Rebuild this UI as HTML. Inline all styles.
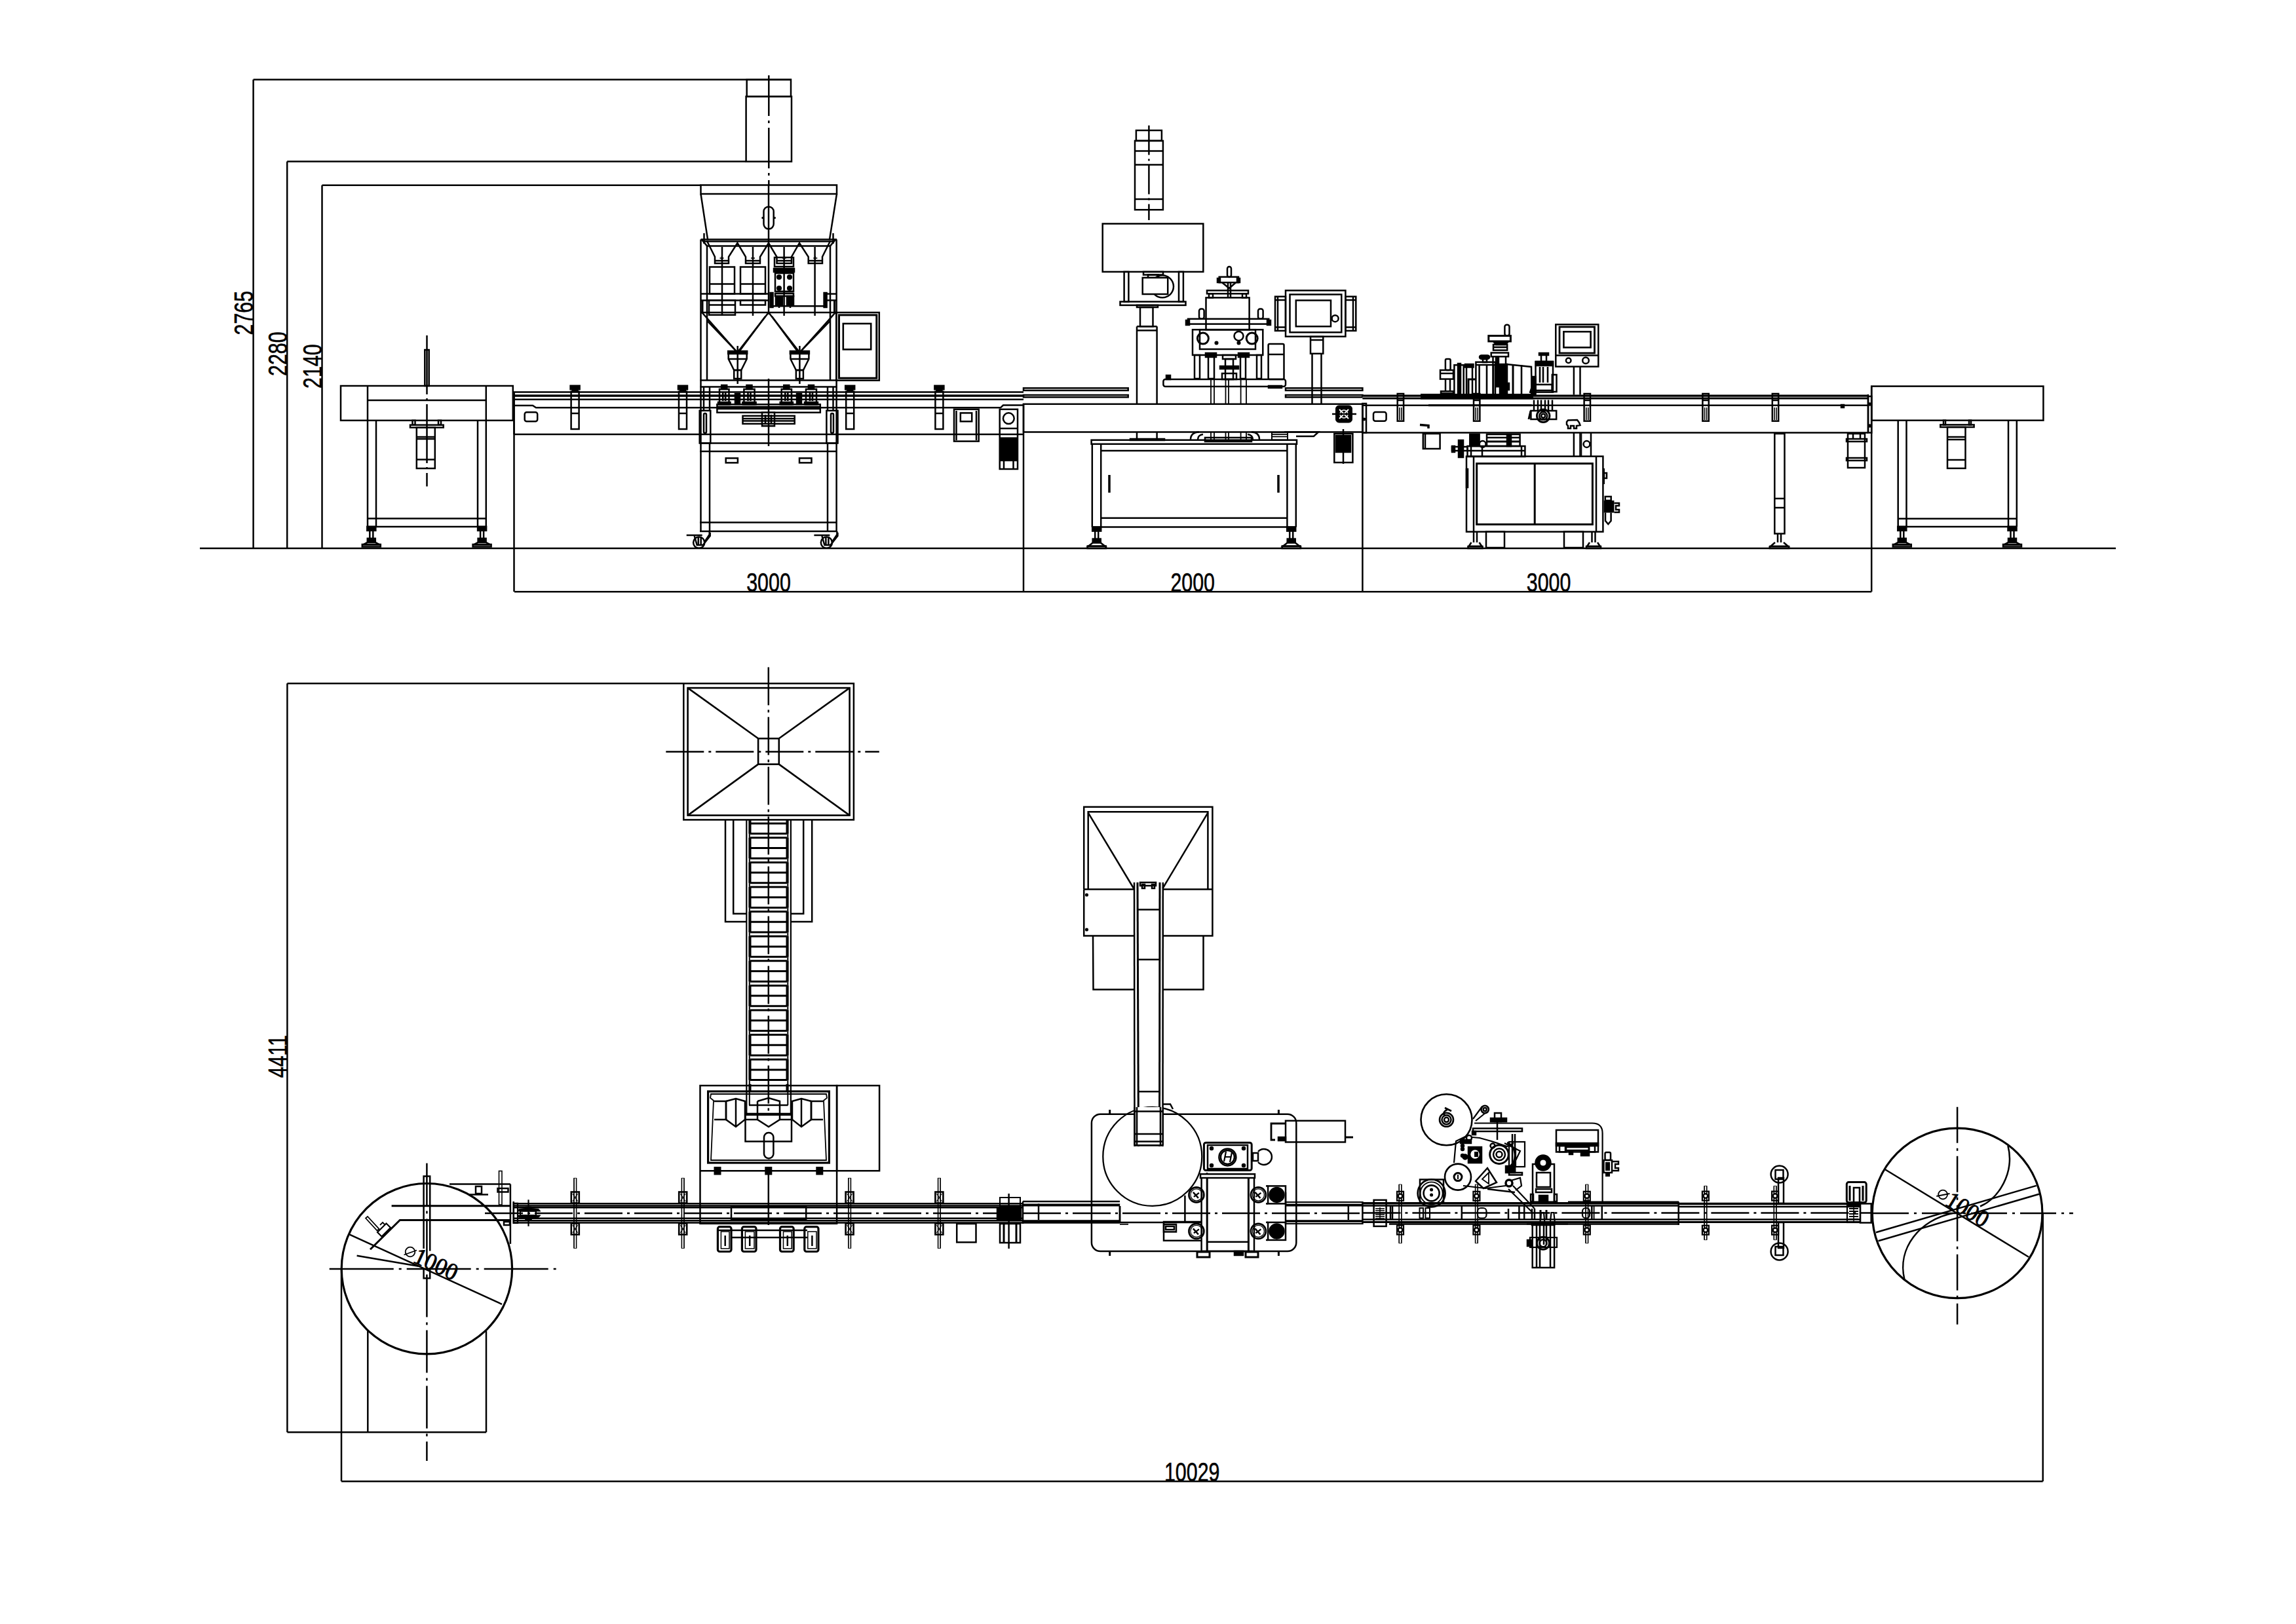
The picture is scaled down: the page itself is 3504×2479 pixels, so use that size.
<!DOCTYPE html>
<html><head><meta charset="utf-8"><style>
html,body{margin:0;padding:0;background:#fff;overflow:hidden;width:3504px;height:2479px;}
svg{display:block;}
</style></head><body>
<svg width="3504" height="2479" viewBox="0 0 3504 2479">
<rect x="0" y="0" width="3504" height="2479" fill="#fff"/>
<g fill="none" stroke="#000" stroke-width="2.5" stroke-linecap="butt" stroke-linejoin="miter">
<line x1="305" y1="837" x2="3229" y2="837" stroke-width="2.4"/>
<line x1="386.6" y1="121.5" x2="386.6" y2="837"/>
<line x1="386.6" y1="121.5" x2="1208" y2="121.5"/>
<line x1="438.2" y1="246.6" x2="438.2" y2="837"/>
<line x1="438.2" y1="246.6" x2="1138" y2="246.6"/>
<line x1="491.5" y1="282.8" x2="491.5" y2="837"/>
<line x1="491.5" y1="282.8" x2="1069.5" y2="282.8"/>
<text transform="translate(386,511.5) rotate(-90) scale(0.75,1)" font-size="40.5" text-anchor="start" font-family="Liberation Sans"  fill="#000" stroke="#000" stroke-width="0.6">2765</text>
<text transform="translate(437.5,574) rotate(-90) scale(0.75,1)" font-size="40.5" text-anchor="start" font-family="Liberation Sans"  fill="#000" stroke="#000" stroke-width="0.6">2280</text>
<text transform="translate(490.7,593) rotate(-90) scale(0.75,1)" font-size="40.5" text-anchor="start" font-family="Liberation Sans"  fill="#000" stroke="#000" stroke-width="0.6">2140</text>
<line x1="785" y1="903.3" x2="2856.2" y2="903.3"/>
<line x1="784.5" y1="600" x2="784.5" y2="903.3"/>
<line x1="1562" y1="616" x2="1562" y2="903.3"/>
<line x1="2079.4" y1="616" x2="2079.4" y2="903.3"/>
<line x1="2856.2" y1="589.6" x2="2856.2" y2="903.3"/>
<text transform="translate(1173,902.5) scale(0.75,1)" font-size="40.5" text-anchor="middle" font-family="Liberation Sans"  fill="#000" stroke="#000" stroke-width="0.6">3000</text>
<text transform="translate(1820.2,902.5) scale(0.75,1)" font-size="40.5" text-anchor="middle" font-family="Liberation Sans"  fill="#000" stroke="#000" stroke-width="0.6">2000</text>
<text transform="translate(2363.6,902.5) scale(0.75,1)" font-size="40.5" text-anchor="middle" font-family="Liberation Sans"  fill="#000" stroke="#000" stroke-width="0.6">3000</text>
<rect x="1138.6" y="147.2" width="69.4" height="99.4"/>
<rect x="1139.7" y="121.5" width="67.3" height="25.7"/>
<line x1="1173.3" y1="115" x2="1173.3" y2="282" stroke-dasharray="62 7 4 7"/>
<rect x="1069.5" y="282.5" width="207.5" height="13.5"/>
<polyline points="1069.5,296 1080.2,366.4"/>
<polyline points="1277,296 1265.9,366.4"/>
<line x1="1173" y1="282" x2="1173" y2="480" stroke-dasharray="200 6 4 6"/>
<rect x="1165.5" y="315.5" width="15.2" height="34" rx="7.5"/>
<line x1="1162.5" y1="332.5" x2="1165.5" y2="332.5" stroke-width="3"/>
<line x1="1180.7" y1="332.5" x2="1183.7" y2="332.5" stroke-width="3"/>
<line x1="1069.5" y1="365.5" x2="1277" y2="365.5" stroke-width="2.6"/>
<polyline points="1071,366 1079,375.4"/>
<polyline points="1275,366 1267,375.4"/>
<line x1="1075" y1="368.5" x2="1271" y2="368.5"/>
<line x1="1079" y1="375.4" x2="1267" y2="375.4"/>
<line x1="1069.5" y1="365.5" x2="1069.5" y2="811"/>
<line x1="1079" y1="375" x2="1079" y2="580.6"/>
<line x1="1276.6" y1="365.5" x2="1276.6" y2="811"/>
<line x1="1267" y1="375" x2="1267" y2="580.6"/>
<line x1="1083" y1="676.5" x2="1083" y2="811"/>
<line x1="1263" y1="676.5" x2="1263" y2="811"/>
<line x1="1074.5" y1="356" x2="1074.5" y2="372"/>
<line x1="1271.5" y1="356" x2="1271.5" y2="372"/>
<polyline points="1079,368 1091,392 1091,402 1112,402 1112,392 1125.4,371 1138,392 1138,402 1160,402 1160,392 1173,371 1185.5,392 1185.5,402 1208,402 1208,392 1220,371 1233.7,392 1233.7,402 1255,402 1255,392 1267,368"/>
<line x1="1091" y1="398" x2="1112" y2="398"/>
<line x1="1098.5" y1="394" x2="1104.5" y2="394" stroke-width="1.6"/>
<line x1="1101.5" y1="391" x2="1101.5" y2="397" stroke-width="1.6"/>
<line x1="1138" y1="398" x2="1160" y2="398"/>
<line x1="1146" y1="394" x2="1152" y2="394" stroke-width="1.6"/>
<line x1="1149" y1="391" x2="1149" y2="397" stroke-width="1.6"/>
<line x1="1185.5" y1="398" x2="1207.9" y2="398"/>
<line x1="1193.7" y1="394" x2="1199.7" y2="394" stroke-width="1.6"/>
<line x1="1196.7" y1="391" x2="1196.7" y2="397" stroke-width="1.6"/>
<line x1="1233.6" y1="398" x2="1255" y2="398"/>
<line x1="1241.3" y1="394" x2="1247.3" y2="394" stroke-width="1.6"/>
<line x1="1244.3" y1="391" x2="1244.3" y2="397" stroke-width="1.6"/>
<line x1="1102" y1="377" x2="1102" y2="482"/>
<line x1="1149" y1="377" x2="1149" y2="482"/>
<line x1="1196.6" y1="377" x2="1196.6" y2="482"/>
<line x1="1243.6" y1="377" x2="1243.6" y2="482"/>
<rect x="1083" y="407.5" width="38" height="41.1"/>
<line x1="1083" y1="433.4" x2="1121" y2="433.4"/>
<rect x="1130" y="407.5" width="38" height="41.1"/>
<line x1="1130" y1="433.4" x2="1168" y2="433.4"/>
<rect x="1082" y="458.4" width="40" height="22.3"/>
<line x1="1082" y1="465.5" x2="1122" y2="465.5"/>
<rect x="1130" y="458.4" width="38" height="7.1"/>
<line x1="1069.5" y1="448.6" x2="1173" y2="448.6"/>
<line x1="1069.5" y1="458.4" x2="1173" y2="458.4"/>
<line x1="1259.6" y1="448.6" x2="1277" y2="448.6"/>
<line x1="1259.6" y1="458.4" x2="1277" y2="458.4"/>
<line x1="1177.5" y1="467.3" x2="1259.6" y2="467.3"/>
<rect x="1175.5" y="447" width="4" height="22" fill="#000"/>
<rect x="1257.6" y="447" width="4" height="22" fill="#000"/>
<line x1="1072" y1="458.4" x2="1072" y2="477" stroke-width="3"/>
<line x1="1273.5" y1="458.4" x2="1273.5" y2="477" stroke-width="3"/>
<rect x="1182" y="393" width="29" height="14"/>
<rect x="1181" y="410" width="31" height="5" fill="#000"/>
<rect x="1183" y="417" width="28" height="28"/>
<line x1="1183" y1="445" x2="1211" y2="445"/>
<circle cx="1189" cy="423" r="2.8" fill="#000"/>
<circle cx="1205" cy="423" r="2.8" fill="#000"/>
<circle cx="1189" cy="440" r="2.8" fill="#000"/>
<circle cx="1205" cy="440" r="2.8" fill="#000"/>
<rect x="1183" y="448" width="28" height="4"/>
<rect x="1184" y="452" width="10" height="13" fill="#000"/>
<rect x="1201" y="452" width="10" height="13" fill="#000"/>
<line x1="1189" y1="465" x2="1189" y2="470"/>
<line x1="1206" y1="465" x2="1206" y2="470"/>
<line x1="1069.5" y1="477" x2="1277" y2="477"/>
<line x1="1071.3" y1="477" x2="1125.4" y2="538"/>
<line x1="1079.3" y1="489.6" x2="1125.4" y2="538"/>
<line x1="1173" y1="477" x2="1125.4" y2="538"/>
<line x1="1168" y1="483" x2="1127" y2="538"/>
<line x1="1173" y1="477" x2="1220.4" y2="538"/>
<line x1="1178" y1="483" x2="1218.4" y2="538"/>
<line x1="1275" y1="477" x2="1220.4" y2="538"/>
<line x1="1267" y1="489.6" x2="1220.4" y2="538"/>
<rect x="1111.2" y="536" width="29" height="4" fill="#000"/>
<polyline points="1111.7,540 1111.7,548 1120.2,565 1131.2,565 1139.7,548 1139.7,540"/>
<line x1="1111.7" y1="548" x2="1139.7" y2="548"/>
<rect x="1120.2" y="565" width="11" height="13"/>
<line x1="1125.7" y1="528" x2="1125.7" y2="586"/>
<rect x="1205.9" y="536" width="29" height="4" fill="#000"/>
<polyline points="1206.4,540 1206.4,548 1214.9,565 1225.9,565 1234.4,548 1234.4,540"/>
<line x1="1206.4" y1="548" x2="1234.4" y2="548"/>
<rect x="1214.9" y="565" width="11" height="13"/>
<line x1="1220.4" y1="528" x2="1220.4" y2="586"/>
<rect x="1276.3" y="477" width="65.5" height="103.7"/>
<rect x="1280.5" y="480.9" width="57.3" height="96.3" stroke-width="3"/>
<rect x="1286.8" y="494" width="42.4" height="39.4" stroke-width="2.6"/>
<line x1="1068.6" y1="580.6" x2="1277.2" y2="580.6"/>
<line x1="1068.6" y1="590.6" x2="1277.2" y2="590.6"/>
<line x1="1074" y1="590.6" x2="1074" y2="626"/>
<line x1="1271.5" y1="590.6" x2="1271.5" y2="626"/>
<line x1="1083" y1="590.6" x2="1083" y2="626"/>
<line x1="1263" y1="590.6" x2="1263" y2="626"/>
<rect x="1067.7" y="626.8" width="16.6" height="49.7"/>
<rect x="1074" y="631" width="4" height="30" rx="2"/>
<rect x="1261.4" y="626.8" width="17.1" height="49.7"/>
<rect x="1268" y="631" width="4" height="30" rx="2"/>
<line x1="1068" y1="676.5" x2="1277" y2="676.5"/>
<line x1="1068" y1="688.9" x2="1277" y2="688.9"/>
<line x1="1068" y1="797.6" x2="1277" y2="797.6"/>
<line x1="1068" y1="811" x2="1277" y2="811"/>
<rect x="1107.7" y="699.4" width="18.2" height="7"/>
<rect x="1220" y="699.4" width="18.5" height="7"/>
<rect x="1094.4" y="617.3" width="157.4" height="12.4"/>
<line x1="1094.4" y1="621" x2="1251.8" y2="621"/>
<line x1="1094.4" y1="624" x2="1251.8" y2="624"/>
<rect x="1098" y="594" width="14.5" height="23.3"/>
<rect x="1101.2" y="588" width="8" height="6" fill="#000"/>
<line x1="1103.2" y1="598" x2="1103.2" y2="612" stroke-width="2.6"/>
<line x1="1107.2" y1="598" x2="1107.2" y2="612" stroke-width="2.6"/>
<rect x="1096" y="614" width="18.5" height="3.3" fill="#000"/>
<rect x="1135.4" y="594" width="16.2" height="23.3"/>
<rect x="1139.5" y="588" width="8" height="6" fill="#000"/>
<line x1="1141.5" y1="598" x2="1141.5" y2="612" stroke-width="2.6"/>
<line x1="1145.5" y1="598" x2="1145.5" y2="612" stroke-width="2.6"/>
<rect x="1133.4" y="614" width="20.2" height="3.3" fill="#000"/>
<rect x="1192.7" y="594" width="15.3" height="23.3"/>
<rect x="1196.3" y="588" width="8" height="6" fill="#000"/>
<line x1="1198.3" y1="598" x2="1198.3" y2="612" stroke-width="2.6"/>
<line x1="1202.3" y1="598" x2="1202.3" y2="612" stroke-width="2.6"/>
<rect x="1190.7" y="614" width="19.3" height="3.3" fill="#000"/>
<rect x="1230" y="594" width="16" height="23.3"/>
<rect x="1234" y="588" width="8" height="6" fill="#000"/>
<line x1="1236" y1="598" x2="1236" y2="612" stroke-width="2.6"/>
<line x1="1240" y1="598" x2="1240" y2="612" stroke-width="2.6"/>
<rect x="1228" y="614" width="20" height="3.3" fill="#000"/>
<rect x="1122" y="601" width="7" height="16" fill="#000"/>
<rect x="1216" y="601" width="7" height="16" fill="#000"/>
<rect x="1133.5" y="634.8" width="79.2" height="12.1"/>
<line x1="1133.5" y1="639" x2="1212.7" y2="639"/>
<line x1="1133.5" y1="642.5" x2="1212.7" y2="642.5"/>
<rect x="1163" y="629.7" width="19" height="20.6"/>
<line x1="1168" y1="633" x2="1168" y2="647" stroke-width="2.6"/>
<line x1="1177" y1="633" x2="1177" y2="647" stroke-width="2.6"/>
<line x1="1173" y1="578" x2="1173" y2="681"/>
<path d="M1082.7,811 L1082.7,816 L1074.7,828 "/>
<polyline points="1047.7,817 1071.7,817"/>
<polyline points="1083.7,813 1083.7,818 1072.7,832 1063.7,832 1059.7,818"/>
<circle cx="1066.7" cy="828.2" r="8.6"/>
<line x1="1065.7" y1="819" x2="1065.7" y2="832"/>
<line x1="1069.7" y1="819" x2="1069.7" y2="832"/>
<path d="M1277.4,811 L1277.4,816 L1269.4,828 "/>
<polyline points="1242.4,817 1266.4,817"/>
<polyline points="1278.4,813 1278.4,818 1267.4,832 1258.4,832 1254.4,818"/>
<circle cx="1261.4" cy="828.2" r="8.6"/>
<line x1="1260.4" y1="819" x2="1260.4" y2="832"/>
<line x1="1264.4" y1="819" x2="1264.4" y2="832"/>
<rect x="520" y="589" width="262.8" height="52.8"/>
<line x1="561" y1="589" x2="561" y2="803.9"/>
<line x1="741.8" y1="589" x2="741.8" y2="803.9"/>
<line x1="561" y1="611" x2="741.8" y2="611"/>
<line x1="574" y1="641.8" x2="574" y2="803.9"/>
<line x1="729" y1="641.8" x2="729" y2="803.9"/>
<line x1="561" y1="791.4" x2="741.8" y2="791.4"/>
<line x1="561" y1="803.9" x2="741.8" y2="803.9"/>
<rect x="560.3" y="803.9" width="13" height="6" fill="#000"/>
<line x1="564.3" y1="809.9" x2="564.3" y2="821.9"/>
<line x1="569.3" y1="809.9" x2="569.3" y2="821.9"/>
<rect x="560.8" y="821.9" width="12" height="6" fill="#000"/>
<polyline points="560.8,827.9 553.8,831.5 579.8,831.5 572.8,827.9"/>
<rect x="552.8" y="831" width="28" height="3.5"/>
<rect x="729.1" y="803.9" width="13" height="6" fill="#000"/>
<line x1="733.1" y1="809.9" x2="733.1" y2="821.9"/>
<line x1="738.1" y1="809.9" x2="738.1" y2="821.9"/>
<rect x="729.6" y="821.9" width="12" height="6" fill="#000"/>
<polyline points="729.6,827.9 722.6,831.5 748.6,831.5 741.6,827.9"/>
<rect x="721.6" y="831" width="28" height="3.5"/>
<line x1="651.5" y1="512" x2="651.5" y2="742.5" stroke-dasharray="90 6 3 6"/>
<rect x="648.3" y="534" width="6.4" height="55"/>
<rect x="626" y="648.7" width="50.7" height="3.9"/>
<rect x="629.5" y="641.8" width="4" height="6.9"/>
<rect x="669" y="641.8" width="4" height="6.9"/>
<rect x="635.8" y="652.6" width="28" height="62.4"/>
<line x1="635.8" y1="667" x2="663.8" y2="667"/>
<line x1="635.8" y1="670" x2="663.8" y2="670"/>
<line x1="635.8" y1="701.5" x2="663.8" y2="701.5"/>
<line x1="784" y1="598.6" x2="1562" y2="598.6"/>
<rect x="784" y="602.6" width="778" height="3" stroke-width="0.5" fill="#000"/>
<line x1="784" y1="609.7" x2="1562" y2="609.7"/>
<polyline points="784.5,619 813,619 818,622.3 1527,622.3 1531,618.5 1562,618.5"/>
<line x1="784.5" y1="663.1" x2="1562" y2="663.1"/>
<line x1="784.5" y1="598.6" x2="784.5" y2="663.1"/>
<rect x="800.7" y="629.2" width="19.5" height="14" rx="3"/>
<rect x="870.6" y="588.8" width="14" height="5.5" fill="#000"/>
<rect x="873.6" y="594.3" width="8" height="3.5" fill="#000"/>
<rect x="871.6" y="597.8" width="12" height="57.2"/>
<line x1="871.6" y1="631" x2="883.6" y2="631"/>
<rect x="1035" y="588.8" width="14" height="5.5" fill="#000"/>
<rect x="1038" y="594.3" width="8" height="3.5" fill="#000"/>
<rect x="1036" y="597.8" width="12" height="57.2"/>
<line x1="1036" y1="631" x2="1048" y2="631"/>
<rect x="1290.2" y="588.8" width="14" height="5.5" fill="#000"/>
<rect x="1293.2" y="594.3" width="8" height="3.5" fill="#000"/>
<rect x="1291.2" y="597.8" width="12" height="57.2"/>
<line x1="1291.2" y1="631" x2="1303.2" y2="631"/>
<rect x="1426.4" y="588.8" width="14" height="5.5" fill="#000"/>
<rect x="1429.4" y="594.3" width="8" height="3.5" fill="#000"/>
<rect x="1427.4" y="597.8" width="12" height="57.2"/>
<line x1="1427.4" y1="631" x2="1439.4" y2="631"/>
<rect x="1456" y="624.8" width="37.7" height="48.8"/>
<line x1="1459.5" y1="627" x2="1459.5" y2="672"/>
<line x1="1490" y1="627" x2="1490" y2="672"/>
<rect x="1465.8" y="630.4" width="17.4" height="12.9"/>
<rect x="1525.7" y="624.8" width="27.3" height="91.2"/>
<circle cx="1539.3" cy="638.7" r="8.4"/>
<rect x="1527" y="668.7" width="24.5" height="34.2" fill="#000"/>
<line x1="1525.7" y1="654" x2="1553" y2="654"/>
<line x1="1532" y1="702.9" x2="1532" y2="716"/>
<line x1="1546.5" y1="702.9" x2="1546.5" y2="716"/>
<rect x="1733.9" y="199" width="39" height="15.9"/>
<rect x="1732" y="214.9" width="42.9" height="105.3"/>
<line x1="1732" y1="230.5" x2="1774.9" y2="230.5"/>
<line x1="1732" y1="251.5" x2="1774.9" y2="251.5"/>
<line x1="1732" y1="303.9" x2="1774.9" y2="303.9"/>
<line x1="1753.4" y1="191.5" x2="1753.4" y2="336" stroke-dasharray="45 6 3 6"/>
<rect x="1682.7" y="341.5" width="153.6" height="73.4"/>
<rect x="1715.6" y="414.9" width="6.8" height="45.6"/>
<rect x="1799" y="414.9" width="6.9" height="45.6"/>
<rect x="1745" y="414.9" width="30" height="4.6"/>
<rect x="1752" y="419.5" width="16" height="4.5"/>
<circle cx="1774" cy="437.3" r="17"/>
<rect x="1743.7" y="423.9" width="38.5" height="25.1" fill="#fff"/>
<rect x="1709.5" y="460.5" width="100" height="5.4"/>
<rect x="1735" y="465.9" width="32" height="3.1"/>
<rect x="1740" y="469" width="19.5" height="29.3"/>
<line x1="1735" y1="498.3" x2="1735" y2="616.8"/>
<line x1="1765.6" y1="498.3" x2="1765.6" y2="616.8"/>
<line x1="1735" y1="498.3" x2="1765.6" y2="498.3"/>
<line x1="1735" y1="504.4" x2="1765.6" y2="504.4"/>
<line x1="1735" y1="659.5" x2="1735" y2="671.7"/>
<line x1="1765.6" y1="659.5" x2="1765.6" y2="671.7"/>
<rect x="1873" y="407" width="6" height="16" rx="3"/>
<rect x="1860.7" y="422.7" width="29.3" height="8.5"/>
<rect x="1858" y="425" width="4" height="6" fill="#000"/>
<rect x="1888" y="425" width="4" height="6" fill="#000"/>
<polyline points="1865,431.2 1876,440 1886,431.2"/>
<line x1="1874" y1="431.2" x2="1874" y2="454.4"/>
<line x1="1878" y1="431.2" x2="1878" y2="454.4"/>
<rect x="1842" y="443.4" width="63" height="4.9"/>
<rect x="1845" y="448.3" width="6" height="6.1"/>
<rect x="1896" y="448.3" width="6" height="6.1"/>
<rect x="1840.5" y="454.4" width="66.1" height="48.8"/>
<rect x="1813" y="486.8" width="123.3" height="7.8"/>
<rect x="1810" y="489" width="5" height="7" fill="#000"/>
<rect x="1934" y="489" width="5" height="7" fill="#000"/>
<rect x="1830" y="471.5" width="7.6" height="15.3" rx="3"/>
<rect x="1920" y="471.5" width="7.6" height="15.3" rx="3"/>
<rect x="1820" y="503.2" width="107.3" height="38.8"/>
<rect x="1831" y="503.2" width="85" height="29.8"/>
<circle cx="1835.9" cy="516.6" r="8.5" stroke-width="3"/>
<circle cx="1910.7" cy="516.6" r="8.5" stroke-width="3"/>
<circle cx="1890.5" cy="513" r="7"/>
<circle cx="1856.5" cy="523.5" r="1.8" fill="#000"/>
<circle cx="1890.5" cy="523.5" r="1.8" fill="#000"/>
<rect x="1823" y="542" width="8" height="36"/>
<rect x="1844" y="542" width="9" height="36"/>
<rect x="1893" y="542" width="8" height="36"/>
<rect x="1918" y="542" width="7" height="36"/>
<rect x="1866" y="542" width="20" height="6"/>
<rect x="1870" y="548" width="12" height="31"/>
<rect x="1840" y="539" width="16" height="6" fill="#000"/>
<rect x="1890" y="539" width="16" height="6" fill="#000"/>
<rect x="1862" y="559" width="28" height="4" fill="#000"/>
<rect x="1865" y="570" width="22" height="9"/>
<rect x="1775.4" y="579" width="186.6" height="11" rx="3"/>
<rect x="1780" y="573" width="6" height="6" fill="#000"/>
<rect x="1936" y="589" width="20" height="3" fill="#000"/>
<rect x="1935.6" y="525" width="23.9" height="54" rx="2"/>
<line x1="1935.6" y1="541" x2="1959.5" y2="541"/>
<rect x="1962" y="443.4" width="91.4" height="70.3"/>
<rect x="1968.5" y="449.5" width="78.8" height="57.8"/>
<rect x="1977.8" y="458.5" width="53.2" height="39.8"/>
<circle cx="2037.6" cy="486.2" r="5"/>
<rect x="1946" y="452.7" width="16" height="52.2"/>
<line x1="1950" y1="452.7" x2="1950" y2="504.9"/>
<line x1="1946" y1="458" x2="1962" y2="458"/>
<line x1="1946" y1="499.5" x2="1962" y2="499.5"/>
<rect x="2053.4" y="452.7" width="15.9" height="52.2"/>
<line x1="2065" y1="452.7" x2="2065" y2="504.9"/>
<line x1="2053.4" y1="458" x2="2069.3" y2="458"/>
<line x1="2053.4" y1="499.5" x2="2069.3" y2="499.5"/>
<rect x="2000" y="514" width="19.3" height="25.8"/>
<line x1="2000" y1="519" x2="2019.3" y2="519"/>
<line x1="2002.5" y1="539.8" x2="2002.5" y2="616.8"/>
<line x1="2016.5" y1="539.8" x2="2016.5" y2="616.8"/>
<rect x="1562" y="616.8" width="517.4" height="42.7"/>
<rect x="1562" y="592.4" width="159.7" height="3.6"/>
<rect x="1562" y="603" width="159.7" height="3.3"/>
<rect x="1962" y="592.4" width="117.4" height="3.6"/>
<rect x="1962" y="603" width="117.4" height="3.3"/>
<rect x="1665.6" y="671.7" width="313.4" height="6.1"/>
<line x1="1666.8" y1="677.8" x2="1666.8" y2="804.6"/>
<line x1="1977.8" y1="677.8" x2="1977.8" y2="804.6"/>
<line x1="1680.2" y1="677.8" x2="1680.2" y2="804.6"/>
<line x1="1964.4" y1="677.8" x2="1964.4" y2="804.6"/>
<line x1="1680.2" y1="688" x2="1964.4" y2="688"/>
<line x1="1680.2" y1="790.7" x2="1964.4" y2="790.7"/>
<line x1="1666.8" y1="804.6" x2="1977.8" y2="804.6"/>
<line x1="1693" y1="725" x2="1693" y2="752" stroke-width="3.5"/>
<line x1="1951" y1="725" x2="1951" y2="752" stroke-width="3.5"/>
<rect x="1667.2" y="804.6" width="13" height="6" fill="#000"/>
<line x1="1671.2" y1="810.6" x2="1671.2" y2="822.6"/>
<line x1="1676.2" y1="810.6" x2="1676.2" y2="822.6"/>
<rect x="1667.7" y="822.6" width="12" height="6" fill="#000"/>
<polyline points="1667.7,828.6 1660.7,834 1686.7,834 1679.7,828.6"/>
<rect x="1659.7" y="833.5" width="28" height="3.5"/>
<rect x="1964.2" y="804.6" width="13" height="6" fill="#000"/>
<line x1="1968.2" y1="810.6" x2="1968.2" y2="822.6"/>
<line x1="1973.2" y1="810.6" x2="1973.2" y2="822.6"/>
<rect x="1964.7" y="822.6" width="12" height="6" fill="#000"/>
<polyline points="1964.7,828.6 1957.7,834 1983.7,834 1976.7,828.6"/>
<rect x="1956.7" y="833.5" width="28" height="3.5"/>
<rect x="1725" y="670" width="52" height="2"/>
<path d="M1817,671 Q1817,660 1830,659.5 M1828,671 Q1828,664 1836,663 M1912,671 Q1912,664 1904,663 M1922,671 Q1922,660 1910,659.5"/>
<rect x="1839" y="668" width="71" height="6"/>
<rect x="1941" y="660" width="24" height="11.7" stroke-width="2"/>
<line x1="1941" y1="663" x2="1965" y2="663" stroke-width="1.8"/>
<line x1="1941" y1="666.5" x2="1965" y2="666.5" stroke-width="1.8"/>
<polyline points="1960,659.5 2012,659.5 2005,666 1978,666"/>
<rect x="2036.3" y="662" width="28.1" height="44"/>
<rect x="2039" y="665" width="22" height="25" fill="#000"/>
<line x1="2050" y1="655" x2="2050" y2="708"/>
<rect x="2038.5" y="619" width="25" height="26" stroke-width="1" fill="#000" rx="5"/>
<path d="M2044,625 L2058,639 M2058,625 L2044,639" stroke="#fff" stroke-width="2"/>
<circle cx="2051" cy="632" r="6" stroke="#fff" stroke-width="1.5"/>
<line x1="2033" y1="632" x2="2070" y2="632"/>
<line x1="1848" y1="579" x2="1848" y2="616.8" stroke-width="1.8"/>
<line x1="1848" y1="659.5" x2="1848" y2="671.7" stroke-width="1.8"/>
<line x1="1853" y1="579" x2="1853" y2="616.8" stroke-width="1.8"/>
<line x1="1853" y1="659.5" x2="1853" y2="671.7" stroke-width="1.8"/>
<line x1="1870.5" y1="579" x2="1870.5" y2="616.8" stroke-width="1.8"/>
<line x1="1870.5" y1="659.5" x2="1870.5" y2="671.7" stroke-width="1.8"/>
<line x1="1875" y1="579" x2="1875" y2="616.8" stroke-width="1.8"/>
<line x1="1875" y1="659.5" x2="1875" y2="671.7" stroke-width="1.8"/>
<line x1="1893.6" y1="579" x2="1893.6" y2="616.8" stroke-width="1.8"/>
<line x1="1893.6" y1="659.5" x2="1893.6" y2="671.7" stroke-width="1.8"/>
<line x1="1902" y1="579" x2="1902" y2="616.8" stroke-width="1.8"/>
<line x1="1902" y1="659.5" x2="1902" y2="671.7" stroke-width="1.8"/>
<rect x="2079.4" y="602.5" width="771.6" height="7" stroke="none" fill="#000"/>
<line x1="2079.4" y1="606.2" x2="2851" y2="606.2" stroke="#fff" stroke-width="0.9"/>
<line x1="2079.4" y1="618.8" x2="2851" y2="618.8"/>
<line x1="2079.4" y1="660.5" x2="2851" y2="660.5"/>
<rect x="2079.4" y="616" width="5.6" height="44.5"/>
<circle cx="2082" cy="640" r="1.2" fill="#000"/>
<rect x="2096" y="629" width="19.6" height="13.7" rx="3"/>
<rect x="2132.7" y="601" width="9.4" height="41.7"/>
<line x1="2132.7" y1="611" x2="2142.1" y2="611"/>
<line x1="2135.9" y1="622" x2="2135.9" y2="641" stroke-width="1.6"/>
<line x1="2138.9" y1="622" x2="2138.9" y2="641" stroke-width="1.6"/>
<rect x="2249" y="601" width="9.4" height="41.7"/>
<line x1="2249" y1="611" x2="2258.4" y2="611"/>
<line x1="2252.2" y1="622" x2="2252.2" y2="641" stroke-width="1.6"/>
<line x1="2255.2" y1="622" x2="2255.2" y2="641" stroke-width="1.6"/>
<rect x="2417.6" y="601" width="9.4" height="41.7"/>
<line x1="2417.6" y1="611" x2="2427" y2="611"/>
<line x1="2420.8" y1="622" x2="2420.8" y2="641" stroke-width="1.6"/>
<line x1="2423.8" y1="622" x2="2423.8" y2="641" stroke-width="1.6"/>
<rect x="2598.4" y="601" width="9.4" height="41.7"/>
<line x1="2598.4" y1="611" x2="2607.8" y2="611"/>
<line x1="2601.6" y1="622" x2="2601.6" y2="641" stroke-width="1.6"/>
<line x1="2604.6" y1="622" x2="2604.6" y2="641" stroke-width="1.6"/>
<rect x="2704.8" y="601" width="9.4" height="41.7"/>
<line x1="2704.8" y1="611" x2="2714.2" y2="611"/>
<line x1="2708" y1="622" x2="2708" y2="641" stroke-width="1.6"/>
<line x1="2711" y1="622" x2="2711" y2="641" stroke-width="1.6"/>
<polyline points="2167,648.5 2180,649.5 2180,654" stroke-width="3.5"/>
<rect x="2374.3" y="495.3" width="65" height="64.3"/>
<line x1="2374.3" y1="542.6" x2="2439.3" y2="542.6"/>
<rect x="2380" y="499" width="53.5" height="40" stroke-width="2.8"/>
<rect x="2386.4" y="506.3" width="41.2" height="24.1" stroke-width="2.6"/>
<circle cx="2393.7" cy="550.3" r="3.8"/>
<circle cx="2420" cy="550.3" r="4.8"/>
<line x1="2401.9" y1="559.6" x2="2401.9" y2="602.7"/>
<line x1="2411.5" y1="559.6" x2="2411.5" y2="602.7"/>
<line x1="2401.9" y1="660.5" x2="2401.9" y2="696"/>
<line x1="2411.5" y1="660.5" x2="2411.5" y2="696"/>
<line x1="2413.5" y1="660.5" x2="2413.5" y2="696" stroke-width="1.6"/>
<line x1="2428" y1="660.5" x2="2428" y2="696"/>
<circle cx="2421.5" cy="678" r="4.9"/>
<rect x="2238" y="696.6" width="208.4" height="115.1"/>
<line x1="2249" y1="696.6" x2="2249" y2="811.7"/>
<line x1="2436" y1="696.6" x2="2436" y2="811.7"/>
<rect x="2253.7" y="707.6" width="176.7" height="92.9" stroke-width="3"/>
<line x1="2342.2" y1="707.6" x2="2342.2" y2="800.5" stroke-width="3"/>
<rect x="2238" y="716" width="2" height="28" fill="#000"/>
<rect x="2268" y="811.7" width="28" height="24.3"/>
<rect x="2387" y="811.7" width="29" height="24.3"/>
<line x1="2249" y1="811.7" x2="2249" y2="828"/>
<line x1="2254" y1="811.7" x2="2254" y2="828"/>
<polyline points="2245.5,828 2241.5,834 2261.5,834 2257.5,828"/>
<rect x="2240.5" y="834" width="22" height="3"/>
<line x1="2429.5" y1="811.7" x2="2429.5" y2="828"/>
<line x1="2434.5" y1="811.7" x2="2434.5" y2="828"/>
<polyline points="2426,828 2422,834 2442,834 2438,828"/>
<rect x="2421" y="834" width="22" height="3"/>
<rect x="2449.8" y="758" width="8.9" height="6"/>
<rect x="2447.8" y="764" width="15.6" height="18.6" stroke="none" fill="#000"/>
<polyline points="2463.4,768 2471,768 2471,772 2466,772 2466,778 2471,778 2471,782 2463.4,782" stroke-width="2.5"/>
<polyline points="2450,782.6 2450,795 2454.3,800 2458.6,795 2458.6,782.6"/>
<rect x="2446" y="715" width="3" height="24" stroke="none" fill="#000"/>
<rect x="2448" y="722" width="4" height="8"/>
<rect x="2168" y="601" width="172" height="8.5" stroke="none" fill="#000"/>
<line x1="2180" y1="618.8" x2="2337.7" y2="618.8" stroke-width="3"/>
<rect x="2205.9" y="548" width="7.7" height="17" rx="2"/>
<rect x="2198" y="565" width="20" height="13.6"/>
<line x1="2198" y1="570" x2="2218" y2="570"/>
<line x1="2206" y1="578.6" x2="2206" y2="597.3"/>
<line x1="2213" y1="578.6" x2="2213" y2="597.3"/>
<rect x="2199" y="597.3" width="19" height="3.2"/>
<rect x="2219.4" y="557.2" width="14.3" height="45.3"/>
<rect x="2225" y="555" width="4" height="47" fill="#000"/>
<rect x="2236" y="556" width="12.5" height="4.5" fill="#000"/>
<line x1="2238" y1="560.5" x2="2238" y2="602"/>
<line x1="2247" y1="560.5" x2="2247" y2="602"/>
<polyline points="2241,602 2241,579 2252,579" stroke-width="3"/>
<rect x="2252.4" y="552.7" width="29.6" height="49.8"/>
<line x1="2252.4" y1="557" x2="2282" y2="557"/>
<line x1="2257.6" y1="557" x2="2257.6" y2="602.5" stroke-width="2.6"/>
<line x1="2269" y1="557" x2="2269" y2="602.5" stroke-width="2.6"/>
<line x1="2279" y1="557" x2="2279" y2="602.5" stroke-width="2.6"/>
<rect x="2258" y="542.4" width="15" height="5.6" fill="#000" rx="3"/>
<rect x="2263" y="548" width="6" height="5"/>
<rect x="2296.4" y="495.8" width="7.1" height="16.8" rx="3"/>
<rect x="2271.8" y="512.6" width="33.6" height="8.4" stroke-width="3"/>
<polyline points="2279,521 2283,526 2298,526 2302,521" fill="#000"/>
<rect x="2279" y="526" width="21.2" height="8.6"/>
<line x1="2279" y1="530" x2="2300" y2="530" stroke-width="2.6"/>
<rect x="2275.7" y="538.5" width="26.3" height="5.8"/>
<line x1="2278.5" y1="544.3" x2="2278.5" y2="602.5"/>
<line x1="2298" y1="544.3" x2="2298" y2="602.5"/>
<rect x="2283" y="544.3" width="4" height="45.7" fill="#000"/>
<rect x="2283" y="585" width="9" height="5"/>
<rect x="2289" y="556" width="11" height="46" fill="#000"/>
<rect x="2298" y="585" width="5" height="10" fill="#000"/>
<line x1="2309" y1="557" x2="2309" y2="602.5" stroke-width="3"/>
<line x1="2322" y1="557" x2="2322" y2="602.5" stroke-width="2.6"/>
<polyline points="2299,556 2337,560 2337.7,602.5"/>
<rect x="2343.5" y="552" width="26.5" height="46.6"/>
<rect x="2344" y="552" width="26" height="6" fill="#000"/>
<rect x="2352" y="540" width="8" height="12"/>
<rect x="2349" y="539" width="14" height="3" fill="#000"/>
<rect x="2343" y="587" width="25.8" height="9" stroke-width="2.6"/>
<line x1="2350" y1="560" x2="2350" y2="584" stroke-width="2.6"/>
<line x1="2355" y1="560" x2="2355" y2="584" stroke-width="2.6"/>
<line x1="2362" y1="560" x2="2362" y2="584" stroke-width="2.6"/>
<rect x="2368.8" y="572" width="6.7" height="26"/>
<rect x="2337.5" y="575" width="6" height="27" fill="#000"/>
<polyline points="2339,588 2335,600" stroke-width="3"/>
<line x1="2341" y1="610.5" x2="2341" y2="627"/>
<line x1="2347" y1="610.5" x2="2347" y2="627"/>
<line x1="2352" y1="610.5" x2="2352" y2="627"/>
<line x1="2358" y1="610.5" x2="2358" y2="627"/>
<line x1="2363" y1="610.5" x2="2363" y2="627"/>
<line x1="2369" y1="610.5" x2="2369" y2="627"/>
<rect x="2336.4" y="627" width="38.8" height="13"/>
<circle cx="2355.2" cy="634.8" r="9.7" stroke-width="3"/>
<circle cx="2355.2" cy="634.8" r="6"/>
<circle cx="2355.2" cy="634.8" r="3"/>
<polyline points="2336,627 2333,640" stroke-width="3"/>
<path d="M2391,644 L2393,641.5 L2407,641 L2410,645 L2411.5,649 L2406,650 L2406,654 L2402,654 L2402,650 L2397,650 L2397,654 L2393,654 L2393,650 L2391,648 Z" stroke-width="2.5"/>
<rect x="2171.8" y="662" width="25.8" height="23"/>
<line x1="2175" y1="662" x2="2175" y2="685"/>
<rect x="2243.3" y="663" width="14.3" height="18" fill="#000"/>
<circle cx="2262.7" cy="678" r="4.9"/>
<rect x="2269" y="663" width="50.6" height="18"/>
<line x1="2269" y1="668" x2="2319.6" y2="668"/>
<line x1="2269" y1="674" x2="2319.6" y2="674" stroke-width="3"/>
<rect x="2300" y="663" width="6" height="18" fill="#000"/>
<rect x="2239.5" y="681" width="87.9" height="16"/>
<line x1="2245" y1="681" x2="2245" y2="697"/>
<line x1="2262" y1="681" x2="2262" y2="697"/>
<line x1="2322" y1="681" x2="2322" y2="697"/>
<line x1="2239.5" y1="688" x2="2327.4" y2="688"/>
<rect x="2226" y="672" width="7" height="26" fill="#000"/>
<rect x="2216" y="682" width="23.5" height="6"/>
<rect x="2216" y="681" width="4" height="9" fill="#000"/>
<line x1="2851" y1="602" x2="2851" y2="660.5"/>
<rect x="2851" y="605" width="5.2" height="55.5"/>
<circle cx="2853.5" cy="617" r="1.5" fill="#000"/>
<circle cx="2853.5" cy="650" r="1.5" fill="#000"/>
<rect x="2810" y="618" width="4" height="4" fill="#000"/>
<rect x="2708.3" y="662" width="15.2" height="152.6"/>
<line x1="2708.3" y1="761" x2="2723.5" y2="761"/>
<line x1="2708.3" y1="775" x2="2723.5" y2="775"/>
<line x1="2713" y1="814.6" x2="2713" y2="828"/>
<line x1="2718" y1="814.6" x2="2718" y2="828"/>
<polyline points="2709,828 2702,834 2729,834 2722,828"/>
<rect x="2701" y="834" width="29" height="3"/>
<rect x="2820" y="662" width="26" height="52"/>
<rect x="2818" y="670" width="31" height="4"/>
<rect x="2818" y="699" width="31" height="4"/>
<line x1="2828" y1="662" x2="2828" y2="670"/>
<line x1="2839" y1="662" x2="2839" y2="670"/>
<rect x="2856.2" y="589.6" width="262.2" height="52.1"/>
<line x1="2896.7" y1="641.7" x2="2896.7" y2="803.9"/>
<line x1="2909.5" y1="641.7" x2="2909.5" y2="803.9"/>
<line x1="3065" y1="641.7" x2="3065" y2="803.9"/>
<line x1="3077.8" y1="641.7" x2="3077.8" y2="803.9"/>
<line x1="2896.7" y1="791.7" x2="3077.8" y2="791.7"/>
<line x1="2896.7" y1="803.9" x2="3077.8" y2="803.9"/>
<rect x="2896.3" y="803.9" width="13" height="6" fill="#000"/>
<line x1="2900.3" y1="809.9" x2="2900.3" y2="821.9"/>
<line x1="2905.3" y1="809.9" x2="2905.3" y2="821.9"/>
<rect x="2896.8" y="821.9" width="12" height="6" fill="#000"/>
<polyline points="2896.8,827.9 2889.8,831.5 2915.8,831.5 2908.8,827.9"/>
<rect x="2888.8" y="831" width="28" height="3.5"/>
<rect x="3064.5" y="803.9" width="13" height="6" fill="#000"/>
<line x1="3068.5" y1="809.9" x2="3068.5" y2="821.9"/>
<line x1="3073.5" y1="809.9" x2="3073.5" y2="821.9"/>
<rect x="3065" y="821.9" width="12" height="6" fill="#000"/>
<polyline points="3065,827.9 3058,831.5 3084,831.5 3077,827.9"/>
<rect x="3057" y="831" width="28" height="3.5"/>
<rect x="2961.3" y="648.4" width="51.3" height="3.6"/>
<rect x="2966" y="641.7" width="3" height="6.7"/>
<rect x="3005" y="641.7" width="3" height="6.7"/>
<rect x="2972" y="652" width="27.5" height="62.9"/>
<line x1="2972" y1="667" x2="2999.5" y2="667"/>
<line x1="2972" y1="671" x2="2999.5" y2="671"/>
<line x1="2972" y1="702" x2="2999.5" y2="702"/>
<line x1="438.4" y1="1043.3" x2="438.4" y2="2186.3"/>
<line x1="438.4" y1="1043.3" x2="1043.3" y2="1043.3"/>
<line x1="438.4" y1="2186.3" x2="742" y2="2186.3"/>
<text transform="translate(438,1645.3) rotate(-90) scale(0.75,1)" font-size="40.5" text-anchor="start" font-family="Liberation Sans"  fill="#000" stroke="#000" stroke-width="0.6">4411</text>
<line x1="521" y1="2261.3" x2="3117.7" y2="2261.3"/>
<line x1="521" y1="1937" x2="521" y2="2261.3"/>
<line x1="3117.7" y1="1852" x2="3117.7" y2="2261.3"/>
<text transform="translate(1819.2,2260.5) scale(0.75,1)" font-size="40.5" text-anchor="middle" font-family="Liberation Sans"  fill="#000" stroke="#000" stroke-width="0.6">10029</text>
<rect x="1043.3" y="1043.3" width="259.6" height="208.1"/>
<rect x="1049.6" y="1050.1" width="247" height="194.5" stroke-width="2.6"/>
<rect x="1157.1" y="1127.3" width="31.7" height="39.3" stroke-width="2.6"/>
<line x1="1049.6" y1="1050.1" x2="1157.1" y2="1127.3" stroke-width="2.6"/>
<line x1="1296.6" y1="1050.1" x2="1188.8" y2="1127.3" stroke-width="2.6"/>
<line x1="1049.6" y1="1244.6" x2="1157.1" y2="1166.6" stroke-width="2.6"/>
<line x1="1296.6" y1="1244.6" x2="1188.8" y2="1166.6" stroke-width="2.6"/>
<line x1="1016.3" y1="1147.6" x2="1341.8" y2="1147.6" stroke-dasharray="58 7 4 7"/>
<line x1="1172.8" y1="1018.4" x2="1172.8" y2="1700" stroke-dasharray="58 7 4 7"/>
<polyline points="1107,1251.4 1107,1407.1 1139,1407.1"/>
<polyline points="1239.2,1251.4 1239.2,1407.1 1206.6,1407.1"/>
<polyline points="1119.2,1251.4 1119.2,1394.7 1139,1394.7"/>
<polyline points="1226.2,1251.4 1226.2,1394.7 1206.6,1394.7"/>
<line x1="1139.3" y1="1251.4" x2="1139.3" y2="1702" stroke-width="2.2"/>
<line x1="1206.9" y1="1251.4" x2="1206.9" y2="1702" stroke-width="2.2"/>
<line x1="1143.8" y1="1251.4" x2="1143.8" y2="1687" stroke-width="2"/>
<line x1="1202.3" y1="1251.4" x2="1202.3" y2="1687" stroke-width="2"/>
<polyline points="1143,1687 1202.6,1687"/>
<line x1="1145" y1="1256.9" x2="1201" y2="1256.9" stroke-width="3"/>
<line x1="1145" y1="1272.6" x2="1201" y2="1272.6" stroke-width="3"/>
<rect x="1142.5" y="1251.4" width="4" height="21.2" stroke="none" fill="#000"/>
<rect x="1199.5" y="1251.4" width="4" height="21.2" stroke="none" fill="#000"/>
<line x1="1145" y1="1278.8" x2="1201" y2="1278.8" stroke-width="3"/>
<line x1="1145" y1="1294.5" x2="1201" y2="1294.5" stroke-width="3"/>
<line x1="1145" y1="1310.2" x2="1201" y2="1310.2" stroke-width="3"/>
<rect x="1142.5" y="1278.8" width="4" height="31.4" stroke="none" fill="#000"/>
<rect x="1199.5" y="1278.8" width="4" height="31.4" stroke="none" fill="#000"/>
<line x1="1145" y1="1316.4" x2="1201" y2="1316.4" stroke-width="3"/>
<line x1="1145" y1="1332.1" x2="1201" y2="1332.1" stroke-width="3"/>
<line x1="1145" y1="1347.8" x2="1201" y2="1347.8" stroke-width="3"/>
<rect x="1142.5" y="1316.4" width="4" height="31.4" stroke="none" fill="#000"/>
<rect x="1199.5" y="1316.4" width="4" height="31.4" stroke="none" fill="#000"/>
<line x1="1145" y1="1354" x2="1201" y2="1354" stroke-width="3"/>
<line x1="1145" y1="1369.7" x2="1201" y2="1369.7" stroke-width="3"/>
<line x1="1145" y1="1385.4" x2="1201" y2="1385.4" stroke-width="3"/>
<rect x="1142.5" y="1354" width="4" height="31.4" stroke="none" fill="#000"/>
<rect x="1199.5" y="1354" width="4" height="31.4" stroke="none" fill="#000"/>
<line x1="1145" y1="1391.6" x2="1201" y2="1391.6" stroke-width="3"/>
<line x1="1145" y1="1407.3" x2="1201" y2="1407.3" stroke-width="3"/>
<line x1="1145" y1="1423" x2="1201" y2="1423" stroke-width="3"/>
<rect x="1142.5" y="1391.6" width="4" height="31.4" stroke="none" fill="#000"/>
<rect x="1199.5" y="1391.6" width="4" height="31.4" stroke="none" fill="#000"/>
<line x1="1145" y1="1429.2" x2="1201" y2="1429.2" stroke-width="3"/>
<line x1="1145" y1="1444.9" x2="1201" y2="1444.9" stroke-width="3"/>
<line x1="1145" y1="1460.6" x2="1201" y2="1460.6" stroke-width="3"/>
<rect x="1142.5" y="1429.2" width="4" height="31.4" stroke="none" fill="#000"/>
<rect x="1199.5" y="1429.2" width="4" height="31.4" stroke="none" fill="#000"/>
<line x1="1145" y1="1466.8" x2="1201" y2="1466.8" stroke-width="3"/>
<line x1="1145" y1="1482.5" x2="1201" y2="1482.5" stroke-width="3"/>
<line x1="1145" y1="1498.2" x2="1201" y2="1498.2" stroke-width="3"/>
<rect x="1142.5" y="1466.8" width="4" height="31.4" stroke="none" fill="#000"/>
<rect x="1199.5" y="1466.8" width="4" height="31.4" stroke="none" fill="#000"/>
<line x1="1145" y1="1504.4" x2="1201" y2="1504.4" stroke-width="3"/>
<line x1="1145" y1="1520.1" x2="1201" y2="1520.1" stroke-width="3"/>
<line x1="1145" y1="1535.8" x2="1201" y2="1535.8" stroke-width="3"/>
<rect x="1142.5" y="1504.4" width="4" height="31.4" stroke="none" fill="#000"/>
<rect x="1199.5" y="1504.4" width="4" height="31.4" stroke="none" fill="#000"/>
<line x1="1145" y1="1542" x2="1201" y2="1542" stroke-width="3"/>
<line x1="1145" y1="1557.7" x2="1201" y2="1557.7" stroke-width="3"/>
<line x1="1145" y1="1573.4" x2="1201" y2="1573.4" stroke-width="3"/>
<rect x="1142.5" y="1542" width="4" height="31.4" stroke="none" fill="#000"/>
<rect x="1199.5" y="1542" width="4" height="31.4" stroke="none" fill="#000"/>
<line x1="1145" y1="1579.6" x2="1201" y2="1579.6" stroke-width="3"/>
<line x1="1145" y1="1595.3" x2="1201" y2="1595.3" stroke-width="3"/>
<line x1="1145" y1="1611" x2="1201" y2="1611" stroke-width="3"/>
<rect x="1142.5" y="1579.6" width="4" height="31.4" stroke="none" fill="#000"/>
<rect x="1199.5" y="1579.6" width="4" height="31.4" stroke="none" fill="#000"/>
<line x1="1145" y1="1617.2" x2="1201" y2="1617.2" stroke-width="3"/>
<line x1="1145" y1="1632.9" x2="1201" y2="1632.9" stroke-width="3"/>
<line x1="1145" y1="1648.6" x2="1201" y2="1648.6" stroke-width="3"/>
<rect x="1142.5" y="1617.2" width="4" height="31.4" stroke="none" fill="#000"/>
<rect x="1199.5" y="1617.2" width="4" height="31.4" stroke="none" fill="#000"/>
<rect x="1142.5" y="1654.8" width="4" height="11.2" stroke="none" fill="#000"/>
<rect x="1199.5" y="1654.8" width="4" height="11.2" stroke="none" fill="#000"/>
<rect x="1068.5" y="1657.1" width="208.6" height="210.7"/>
<rect x="1277.1" y="1657.1" width="65" height="130.1"/>
<line x1="1068.5" y1="1787.2" x2="1277.1" y2="1787.2"/>
<rect x="1080.6" y="1666" width="184.8" height="109" stroke-width="3.2"/>
<path d="M1085,1670 L1261,1670 L1262,1676 L1257,1680 L1261,1771 L1085,1771 L1089,1680 L1084,1676 Z" stroke-width="1.8"/>
<polyline points="1090,1681 1108,1681 1108,1709 1090,1709"/>
<polyline points="1108,1681 1123,1677 1137,1681 1137,1709 1123,1720 1108,1709 1108,1681"/>
<line x1="1123" y1="1677" x2="1123" y2="1720"/>
<polyline points="1256,1681 1238,1681 1238,1709 1256,1709"/>
<polyline points="1238,1681 1223,1677 1209,1681 1209,1709 1223,1720 1238,1709 1238,1681"/>
<line x1="1223" y1="1677" x2="1223" y2="1720"/>
<polyline points="1156,1681 1173,1676 1190,1681 1190,1709 1173,1720 1156,1709 1156,1681"/>
<line x1="1137" y1="1700" x2="1209" y2="1700"/>
<line x1="1137" y1="1709" x2="1156" y2="1709"/>
<line x1="1190" y1="1709" x2="1209" y2="1709"/>
<rect x="1137.5" y="1701.8" width="70.5" height="40.6"/>
<rect x="1166" y="1729" width="14.4" height="39.2" rx="7"/>
<rect x="1089.5" y="1781" width="11" height="12.5" stroke="none" fill="#000"/>
<rect x="1167.3" y="1781" width="11" height="12.5" stroke="none" fill="#000"/>
<rect x="1245.3" y="1781" width="11" height="12.5" stroke="none" fill="#000"/>
<line x1="1172.8" y1="1793" x2="1172.8" y2="1870"/>
<line x1="783.7" y1="1837.3" x2="1561" y2="1837.3"/>
<line x1="783.7" y1="1840.6" x2="1561" y2="1840.6"/>
<line x1="783.7" y1="1843.2" x2="1561" y2="1843.2"/>
<line x1="783.7" y1="1859.8" x2="1561" y2="1859.8"/>
<line x1="783.7" y1="1863.3" x2="1561" y2="1863.3"/>
<line x1="783.7" y1="1866.5" x2="1561" y2="1866.5"/>
<line x1="783.7" y1="1834" x2="783.7" y2="1868"/>
<line x1="740" y1="1852" x2="1561" y2="1852" stroke-dasharray="58 7 4 7"/>
<rect x="1116" y="1842.2" width="114.2" height="19.5"/>
<line x1="876" y1="1798.3" x2="876" y2="1905.6" stroke-width="1.6"/>
<line x1="879.6" y1="1798.3" x2="879.6" y2="1905.6" stroke-width="1.6"/>
<rect x="876" y="1798.3" width="3.6" height="107.3" stroke-width="0.8"/>
<rect x="871.8" y="1819.5" width="12" height="17" stroke-width="2.6"/>
<path d="M873.8,1822 L881.8,1834 M881.8,1822 L873.8,1834" stroke-width="1.2"/>
<rect x="871.8" y="1867.5" width="12" height="17" stroke-width="2.6"/>
<path d="M873.8,1870 L881.8,1882 M881.8,1870 L873.8,1882" stroke-width="1.2"/>
<line x1="1040.4" y1="1798.3" x2="1040.4" y2="1905.6" stroke-width="1.6"/>
<line x1="1044" y1="1798.3" x2="1044" y2="1905.6" stroke-width="1.6"/>
<rect x="1040.4" y="1798.3" width="3.6" height="107.3" stroke-width="0.8"/>
<rect x="1036.2" y="1819.5" width="12" height="17" stroke-width="2.6"/>
<path d="M1038.2,1822 L1046.2,1834 M1046.2,1822 L1038.2,1834" stroke-width="1.2"/>
<rect x="1036.2" y="1867.5" width="12" height="17" stroke-width="2.6"/>
<path d="M1038.2,1870 L1046.2,1882 M1046.2,1870 L1038.2,1882" stroke-width="1.2"/>
<line x1="1294.8" y1="1798.3" x2="1294.8" y2="1905.6" stroke-width="1.6"/>
<line x1="1298.4" y1="1798.3" x2="1298.4" y2="1905.6" stroke-width="1.6"/>
<rect x="1294.8" y="1798.3" width="3.6" height="107.3" stroke-width="0.8"/>
<rect x="1290.6" y="1819.5" width="12" height="17" stroke-width="2.6"/>
<path d="M1292.6,1822 L1300.6,1834 M1300.6,1822 L1292.6,1834" stroke-width="1.2"/>
<rect x="1290.6" y="1867.5" width="12" height="17" stroke-width="2.6"/>
<path d="M1292.6,1870 L1300.6,1882 M1300.6,1870 L1292.6,1882" stroke-width="1.2"/>
<line x1="1431.6" y1="1798.3" x2="1431.6" y2="1905.6" stroke-width="1.6"/>
<line x1="1435.2" y1="1798.3" x2="1435.2" y2="1905.6" stroke-width="1.6"/>
<rect x="1431.6" y="1798.3" width="3.6" height="107.3" stroke-width="0.8"/>
<rect x="1427.4" y="1819.5" width="12" height="17" stroke-width="2.6"/>
<path d="M1429.4,1822 L1437.4,1834 M1437.4,1822 L1429.4,1834" stroke-width="1.2"/>
<rect x="1427.4" y="1867.5" width="12" height="17" stroke-width="2.6"/>
<path d="M1429.4,1870 L1437.4,1882 M1437.4,1870 L1429.4,1882" stroke-width="1.2"/>
<rect x="1095.4" y="1872.7" width="20.6" height="37.8" stroke-width="3.2" rx="3"/>
<rect x="1100.4" y="1880" width="12.6" height="26" stroke-width="1.5"/>
<line x1="1106.7" y1="1886" x2="1106.7" y2="1902" stroke-width="2.5"/>
<rect x="1132.4" y="1872.7" width="21.6" height="37.8" stroke-width="3.2" rx="3"/>
<rect x="1137.4" y="1880" width="13.6" height="26" stroke-width="1.5"/>
<line x1="1144.2" y1="1886" x2="1144.2" y2="1902" stroke-width="2.5"/>
<rect x="1190.5" y="1872.7" width="20.7" height="37.8" stroke-width="3.2" rx="3"/>
<rect x="1195.5" y="1880" width="12.7" height="26" stroke-width="1.5"/>
<line x1="1201.8" y1="1886" x2="1201.8" y2="1902" stroke-width="2.5"/>
<rect x="1227.8" y="1872.7" width="21.2" height="37.8" stroke-width="3.2" rx="3"/>
<rect x="1232.8" y="1880" width="13.2" height="26" stroke-width="1.5"/>
<line x1="1239.4" y1="1886" x2="1239.4" y2="1902" stroke-width="2.5"/>
<line x1="1095" y1="1878" x2="1116" y2="1878"/>
<line x1="1116" y1="1878" x2="1232" y2="1878"/>
<line x1="1116" y1="1889" x2="1232" y2="1889"/>
<rect x="1460.2" y="1868" width="29.3" height="28.3"/>
<rect x="1526" y="1828" width="31" height="14" stroke-width="2"/>
<rect x="1522" y="1845" width="36" height="16" fill="#000"/>
<rect x="1526" y="1868" width="31" height="29" stroke-width="2.5"/>
<line x1="1532" y1="1868" x2="1532" y2="1897" stroke-width="3"/>
<line x1="1551" y1="1868" x2="1551" y2="1897" stroke-width="3"/>
<line x1="1539.6" y1="1822" x2="1539.6" y2="1906"/>
<rect x="784" y="1836.8" width="6" height="30.2" stroke-width="2.2"/>
<path d="M789,1849 L792,1845.5 L800,1844.5 L802,1842 L811,1842 L813,1844.5 L822,1845.5 L825,1849 Z" stroke-width="0.8" fill="#000"/>
<path d="M789,1855 L792,1858.5 L800,1859.5 L802,1862 L811,1862 L813,1859.5 L822,1858.5 L825,1855 Z" stroke-width="0.8" fill="#000"/>
<rect x="794" y="1848.8" width="24" height="6.4" stroke-width="2"/>
<line x1="806.5" y1="1831.3" x2="806.5" y2="1871.9" stroke-width="2.2"/>
<circle cx="651.4" cy="1936.7" r="130.2" stroke-width="3.2"/>
<line x1="561.3" y1="2032" x2="561.3" y2="2186.3"/>
<line x1="742" y1="2032" x2="742" y2="2186.3"/>
<line x1="502.7" y1="1937" x2="851" y2="1937" stroke-dasharray="98 8 4 8"/>
<line x1="651.4" y1="1775.6" x2="651.4" y2="2230" stroke-dasharray="65 8 4 8"/>
<line x1="533.8" y1="1884.6" x2="766" y2="1990.9"/>
<line x1="544.6" y1="1916.7" x2="638.6" y2="1932.8"/>
<polyline points="646.6,1906 646.6,1795.4 656.2,1795.4 656.2,1909.6"/>
<polyline points="646.6,1937.4 646.6,1951.2 656.2,1951.2 656.2,1937.4"/>
<polyline points="565,1907.3 610.3,1862.5 778.9,1862.5" stroke-width="3"/>
<line x1="597.6" y1="1840.7" x2="778.9" y2="1840.7" stroke-width="3"/>
<line x1="778.9" y1="1807.6" x2="778.9" y2="1898.8"/>
<polyline points="686,1807.6 778.9,1807.6"/>
<polyline points="716,1823.5 745,1823.5"/>
<rect x="726" y="1811" width="9" height="11"/>
<rect x="761.5" y="1787.5" width="4.5" height="51.5" stroke-width="1.6"/>
<rect x="759.5" y="1814" width="16" height="5.5" stroke-width="2.5"/>
<rect x="769" y="1865" width="9" height="5"/>
<path d="M558,1859.5 L575.5,1878.5 L578.5,1876 L561,1857 Z" stroke-width="1.8"/>
<path d="M576,1881 L589.5,1867.5 L596,1874 L582.5,1887.5 Z" stroke-width="2.2"/>
<path d="M580,1870 L584,1866 L588,1870" stroke-width="1.8"/>
<text transform="translate(628.7,1926.1) rotate(24.6) scale(0.97,1)" font-size="36" text-anchor="start" font-family="Liberation Serif"  fill="#000" stroke="#000" stroke-width="0.9">1000</text>
<circle cx="626" cy="1911" r="7.3" stroke-width="1.8"/>
<line x1="616.5" y1="1915.5" x2="636" y2="1908.5" stroke-width="1.8"/>
<circle cx="2987.1" cy="1851.9" r="129.8" stroke-width="3.2"/>
<line x1="2858" y1="1852" x2="3163.9" y2="1852" stroke-dasharray="55 8 4 8"/>
<line x1="2987.1" y1="1689.8" x2="2987.1" y2="2021.7" stroke-dasharray="55 8 4 8"/>
<line x1="2877.1" y1="1785.3" x2="3096" y2="1918.7"/>
<line x1="2863" y1="1881.3" x2="3107.7" y2="1809.9"/>
<line x1="2866.6" y1="1894.2" x2="3111.9" y2="1822.8"/>
<path d="M3064.4,1749 C3075,1790 3050,1830 3022,1841.5"/>
<path d="M2906.4,1952.7 C2895,1905 2930,1862 2980,1852"/>
<text transform="translate(2966.8,1838.2) rotate(31.4) scale(0.97,1)" font-size="36" text-anchor="start" font-family="Liberation Serif"  fill="#000" stroke="#000" stroke-width="0.9">1000</text>
<circle cx="2965.1" cy="1823.6" r="6.9" stroke-width="1.8"/>
<line x1="2955.3" y1="1826" x2="2975.5" y2="1822" stroke-width="1.8"/>
<polyline points="1654.2,1357.4 1654.2,1231.8 1850.4,1231.8 1850.4,1428.4 1774.8,1428.4"/>
<polyline points="1731,1428.4 1654.2,1428.4 1654.2,1357.4"/>
<line x1="1654.2" y1="1357.4" x2="1731" y2="1357.4"/>
<line x1="1774.8" y1="1357.4" x2="1850.4" y2="1357.4"/>
<polyline points="1660.7,1357.4 1660.7,1239.2 1843.4,1239.2 1843.4,1357.4"/>
<line x1="1660.7" y1="1240.7" x2="1730.1" y2="1356" stroke-width="2.5"/>
<line x1="1843.4" y1="1240.7" x2="1774.5" y2="1356" stroke-width="2.5"/>
<polyline points="1668,1428.4 1668.5,1510.5 1731,1510.5"/>
<polyline points="1836.5,1428.4 1836.5,1510.5 1774.8,1510.5"/>
<circle cx="1658.5" cy="1366" r="1.3" fill="#000"/>
<circle cx="1658.5" cy="1419" r="1.3" fill="#000"/>
<line x1="1731" y1="1347" x2="1731.5" y2="1750"/>
<line x1="1774.8" y1="1347" x2="1774.5" y2="1750"/>
<line x1="1736" y1="1347" x2="1737.5" y2="1750" stroke-width="3"/>
<line x1="1770" y1="1347" x2="1769.5" y2="1750" stroke-width="3"/>
<line x1="1736" y1="1388.5" x2="1770" y2="1388.5"/>
<line x1="1737" y1="1464.7" x2="1770" y2="1464.7"/>
<line x1="1737.5" y1="1666.3" x2="1769.5" y2="1666.3"/>
<rect x="1740" y="1347" width="24" height="5"/>
<rect x="1743" y="1350" width="4" height="6"/>
<rect x="1758" y="1350" width="4" height="6"/>
<line x1="1737.5" y1="1696.4" x2="1769.5" y2="1696.4"/>
<line x1="1731.5" y1="1731" x2="1774.5" y2="1731"/>
<line x1="1731.5" y1="1742.4" x2="1774.5" y2="1742.4"/>
<line x1="1731.5" y1="1748.2" x2="1774.5" y2="1748.2"/>
<rect x="1665.9" y="1700.8" width="312.4" height="209.3" rx="13.4"/>
<line x1="1693.7" y1="1694" x2="1693.7" y2="1700.8" stroke-width="3"/>
<line x1="1693.7" y1="1910.1" x2="1693.7" y2="1917" stroke-width="3"/>
<line x1="1951.4" y1="1694" x2="1951.4" y2="1700.8" stroke-width="3"/>
<line x1="1951.4" y1="1910.1" x2="1951.4" y2="1917" stroke-width="3"/>
<circle cx="1758.8" cy="1765.4" r="75.5" stroke-width="2.3"/>
<rect x="1731.6" y="1690" width="43.1" height="58.2" stroke="none" fill="#fff"/>
<line x1="1731.6" y1="1690" x2="1731.6" y2="1748.2"/>
<line x1="1774.7" y1="1690" x2="1774.7" y2="1748.2"/>
<line x1="1735" y1="1690" x2="1735" y2="1748.2" stroke-width="2.6"/>
<line x1="1771" y1="1690" x2="1771" y2="1748.2" stroke-width="2.6"/>
<line x1="1731.6" y1="1696.4" x2="1774.7" y2="1696.4"/>
<line x1="1731.6" y1="1731" x2="1774.7" y2="1731"/>
<line x1="1731.6" y1="1742.4" x2="1774.7" y2="1742.4"/>
<line x1="1731.6" y1="1748.2" x2="1774.7" y2="1748.2"/>
<polyline points="1774.7,1685.5 1786,1685.5 1790,1693"/>
<rect x="1837.4" y="1744.3" width="72.8" height="42.2" stroke-width="3" rx="3"/>
<rect x="1843" y="1748" width="61" height="36"/>
<circle cx="1873.4" cy="1766.4" r="13"/>
<circle cx="1873.4" cy="1766.4" r="10.5"/>
<path d="M1868,1773 L1871,1758 M1877,1774 L1880,1759 M1869,1766 L1879,1766" stroke-width="2.2"/>
<circle cx="1849" cy="1753" r="2" fill="#000"/>
<circle cx="1898" cy="1753" r="2" fill="#000"/>
<circle cx="1849" cy="1779" r="2" fill="#000"/>
<circle cx="1898" cy="1779" r="2" fill="#000"/>
<rect x="1912" y="1760" width="8" height="12"/>
<path d="M1920,1758 A12,12 0 1 1 1920,1774" stroke-width="2.5"/>
<rect x="1832" y="1792.2" width="83" height="5.8"/>
<line x1="1833.6" y1="1798" x2="1833.6" y2="1909"/>
<line x1="1842.2" y1="1798" x2="1842.2" y2="1909" stroke-width="3"/>
<line x1="1905.4" y1="1798" x2="1905.4" y2="1909" stroke-width="3"/>
<line x1="1914" y1="1798" x2="1914" y2="1909"/>
<line x1="1842.2" y1="1895.7" x2="1905.4" y2="1895.7"/>
<line x1="1842" y1="1790" x2="1842" y2="1792"/>
<rect x="1827" y="1911" width="19" height="8" stroke-width="3"/>
<rect x="1901" y="1911" width="19" height="8" stroke-width="3"/>
<rect x="1884" y="1910" width="13" height="6" fill="#000"/>
<line x1="1835" y1="1910" x2="1912" y2="1910"/>
<circle cx="1825.9" cy="1823.9" r="11.5" stroke-width="2.6"/>
<circle cx="1825.9" cy="1823.9" r="9" stroke-width="1.2"/>
<path d="M1820.9,1819.9 L1828.9,1828.9 M1821.9,1826.9 L1829.9,1820.9" stroke-width="2.4"/>
<circle cx="1825.9" cy="1879.4" r="11.5" stroke-width="2.6"/>
<circle cx="1825.9" cy="1879.4" r="9" stroke-width="1.2"/>
<path d="M1820.9,1875.4 L1828.9,1884.4 M1821.9,1882.4 L1829.9,1876.4" stroke-width="2.4"/>
<circle cx="1920.4" cy="1823.9" r="11.5" stroke-width="2.6"/>
<circle cx="1920.4" cy="1823.9" r="9" stroke-width="1.2"/>
<path d="M1915.4,1819.9 L1923.4,1828.9 M1916.4,1826.9 L1924.4,1820.9" stroke-width="2.4"/>
<circle cx="1920.4" cy="1879.4" r="11.5" stroke-width="2.6"/>
<circle cx="1920.4" cy="1879.4" r="9" stroke-width="1.2"/>
<path d="M1915.4,1875.4 L1923.4,1884.4 M1916.4,1882.4 L1924.4,1876.4" stroke-width="2.4"/>
<rect x="1935.1" y="1810.4" width="26.9" height="27" stroke-width="2.5"/>
<circle cx="1948.5" cy="1823.9" r="11" fill="#000"/>
<line x1="1932" y1="1810.4" x2="1935" y2="1810.4"/>
<line x1="1932" y1="1837.4" x2="1935" y2="1837.4"/>
<rect x="1935.1" y="1865.9" width="26.9" height="27" stroke-width="2.5"/>
<circle cx="1948.5" cy="1879.4" r="11" fill="#000"/>
<line x1="1932" y1="1865.9" x2="1935" y2="1865.9"/>
<line x1="1932" y1="1892.9" x2="1935" y2="1892.9"/>
<polyline points="1833.6,1893.8 1776,1893.8 1776,1865 1833.6,1865"/>
<rect x="1776" y="1869" width="19" height="11.4"/>
<rect x="1779" y="1872" width="13" height="5"/>
<line x1="1808.4" y1="1824.8" x2="1808.4" y2="1866"/>
<rect x="1962" y="1710.8" width="91" height="32.6"/>
<polyline points="1962,1715 1940,1715 1940,1740 1946,1740" stroke-width="2.8"/>
<rect x="1951" y="1736" width="11" height="5" fill="#000"/>
<line x1="2053" y1="1736" x2="2065" y2="1736" stroke-width="3"/>
<line x1="1561" y1="1834" x2="1709" y2="1834"/>
<line x1="1561" y1="1866.5" x2="1709" y2="1866.5"/>
<rect x="1561" y="1837.7" width="148" height="3.5" stroke-width="0.3" fill="#000"/>
<rect x="1561" y="1862.3" width="148" height="3.5" stroke-width="0.3" fill="#000"/>
<line x1="1561" y1="1834" x2="1561" y2="1868"/>
<line x1="1585" y1="1837.5" x2="1585" y2="1862"/>
<line x1="1709" y1="1841" x2="1709" y2="1866.5"/>
<line x1="1709" y1="1866" x2="1833" y2="1866"/>
<line x1="1709" y1="1841" x2="1709" y2="1866"/>
<line x1="1709" y1="1868.8" x2="1722" y2="1868.8" stroke-width="1.8"/>
<line x1="1962" y1="1835" x2="2079.4" y2="1835" stroke-width="1.8"/>
<rect x="1962" y="1837.8" width="117.4" height="3.5" stroke-width="0.3" fill="#000"/>
<rect x="1962" y="1862.3" width="117.4" height="3.5" stroke-width="0.3" fill="#000"/>
<line x1="1962" y1="1868" x2="2079.4" y2="1868" stroke-width="1.8"/>
<line x1="2079.4" y1="1834" x2="2079.4" y2="1869"/>
<line x1="1962" y1="1820" x2="1962" y2="1868.9"/>
<line x1="2057.8" y1="1841" x2="2057.8" y2="1862"/>
<line x1="1561" y1="1852" x2="2080" y2="1852" stroke-dasharray="58 7 4 7"/>
<line x1="2079.4" y1="1836.7" x2="2561.7" y2="1836.7" stroke-width="3.5"/>
<line x1="2079.4" y1="1840.5" x2="2561.7" y2="1840.5"/>
<line x1="2561.7" y1="1837.4" x2="2839" y2="1837.4" stroke-width="3.5"/>
<line x1="2561.7" y1="1842" x2="2839" y2="1842"/>
<line x1="2079.4" y1="1861.5" x2="2839" y2="1861.5" stroke-width="2.6"/>
<line x1="2079.4" y1="1865.5" x2="2839" y2="1865.5" stroke-width="3.2"/>
<line x1="2120" y1="1868.5" x2="2561.7" y2="1868.5"/>
<line x1="2561.7" y1="1834.5" x2="2561.7" y2="1870"/>
<line x1="2079.4" y1="1851.6" x2="2858" y2="1851.6" stroke-dasharray="58 7 4 7"/>
<rect x="2096.6" y="1831.8" width="19" height="40.1" stroke-width="2.5"/>
<line x1="2099" y1="1845" x2="2113" y2="1845" stroke-width="1.6"/>
<line x1="2099" y1="1848" x2="2113" y2="1848" stroke-width="1.6"/>
<line x1="2099" y1="1851" x2="2113" y2="1851" stroke-width="1.6"/>
<line x1="2099" y1="1854" x2="2113" y2="1854" stroke-width="1.6"/>
<line x1="2099" y1="1857" x2="2113" y2="1857" stroke-width="1.6"/>
<line x1="2099" y1="1860" x2="2113" y2="1860" stroke-width="1.6"/>
<line x1="2106" y1="1843" x2="2106" y2="1862" stroke-width="1.5"/>
<line x1="2122" y1="1841" x2="2122" y2="1862"/>
<line x1="2125" y1="1841" x2="2125" y2="1862"/>
<line x1="2135.2" y1="1808" x2="2135.2" y2="1897.8" stroke-width="1.6"/>
<line x1="2138.8" y1="1808" x2="2138.8" y2="1897.8" stroke-width="1.6"/>
<rect x="2135.2" y="1808" width="3.6" height="89.8" stroke-width="0.8"/>
<rect x="2132" y="1818.8" width="10" height="14" stroke-width="2.2"/>
<circle cx="2137" cy="1825.8" r="3.3" fill="#fff"/>
<rect x="2132" y="1870.5" width="10" height="14" stroke-width="2.2"/>
<circle cx="2137" cy="1877.5" r="3.3" fill="#fff"/>
<line x1="2251.6" y1="1808" x2="2251.6" y2="1897.8" stroke-width="1.6"/>
<line x1="2255.2" y1="1808" x2="2255.2" y2="1897.8" stroke-width="1.6"/>
<rect x="2251.6" y="1808" width="3.6" height="89.8" stroke-width="0.8"/>
<rect x="2248.4" y="1818.8" width="10" height="14" stroke-width="2.2"/>
<circle cx="2253.4" cy="1825.8" r="3.3" fill="#fff"/>
<rect x="2248.4" y="1870.5" width="10" height="14" stroke-width="2.2"/>
<circle cx="2253.4" cy="1877.5" r="3.3" fill="#fff"/>
<line x1="2420" y1="1808" x2="2420" y2="1897.8" stroke-width="1.6"/>
<line x1="2423.6" y1="1808" x2="2423.6" y2="1897.8" stroke-width="1.6"/>
<rect x="2420" y="1808" width="3.6" height="89.8" stroke-width="0.8"/>
<rect x="2416.8" y="1818.8" width="10" height="14" stroke-width="2.2"/>
<circle cx="2421.8" cy="1825.8" r="3.3" fill="#fff"/>
<rect x="2416.8" y="1870.5" width="10" height="14" stroke-width="2.2"/>
<circle cx="2421.8" cy="1877.5" r="3.3" fill="#fff"/>
<line x1="2601.1" y1="1810.3" x2="2601.1" y2="1892.7" stroke-width="1.6"/>
<line x1="2604.7" y1="1810.3" x2="2604.7" y2="1892.7" stroke-width="1.6"/>
<rect x="2601.1" y="1810.3" width="3.6" height="82.4" stroke-width="0.8"/>
<rect x="2597.9" y="1818.6" width="10" height="14" stroke-width="2.2"/>
<circle cx="2602.9" cy="1825.6" r="3.3" fill="#fff"/>
<rect x="2597.9" y="1870.7" width="10" height="14" stroke-width="2.2"/>
<circle cx="2602.9" cy="1877.7" r="3.3" fill="#fff"/>
<line x1="2707.3" y1="1810.3" x2="2707.3" y2="1892.7" stroke-width="1.6"/>
<line x1="2710.9" y1="1810.3" x2="2710.9" y2="1892.7" stroke-width="1.6"/>
<rect x="2707.3" y="1810.3" width="3.6" height="82.4" stroke-width="0.8"/>
<rect x="2704.1" y="1818.6" width="10" height="14" stroke-width="2.2"/>
<circle cx="2709.1" cy="1825.6" r="3.3" fill="#fff"/>
<rect x="2704.1" y="1870.7" width="10" height="14" stroke-width="2.2"/>
<circle cx="2709.1" cy="1877.7" r="3.3" fill="#fff"/>
<rect x="2714" y="1798" width="8" height="39"/>
<rect x="2714" y="1866" width="8" height="39"/>
<circle cx="2715.6" cy="1792.5" r="13"/>
<circle cx="2715.6" cy="1910.4" r="13"/>
<rect x="2709.5" y="1786" width="12" height="14"/>
<rect x="2709.5" y="1903" width="12" height="13"/>
<rect x="2818.3" y="1804.6" width="29.9" height="30.9" stroke-width="3" rx="3"/>
<line x1="2823" y1="1810" x2="2823" y2="1833" stroke-width="3"/>
<line x1="2843" y1="1810" x2="2843" y2="1833" stroke-width="3"/>
<polyline points="2829,1835.5 2829,1813 2838,1813 2838,1835.5" stroke-width="2.6"/>
<rect x="2819" y="1840" width="20" height="26" stroke-width="2.2"/>
<line x1="2822" y1="1845" x2="2836" y2="1845" stroke-width="2"/>
<line x1="2822" y1="1849" x2="2836" y2="1849" stroke-width="2"/>
<line x1="2822" y1="1853" x2="2836" y2="1853" stroke-width="2"/>
<line x1="2822" y1="1857" x2="2836" y2="1857" stroke-width="2"/>
<line x1="2822" y1="1861" x2="2836" y2="1861" stroke-width="2"/>
<line x1="2829" y1="1842" x2="2829" y2="1864" stroke-width="1.5"/>
<rect x="2839" y="1837.4" width="16.7" height="29.1"/>
<path d="M2250,1714.5 L2430,1714.5 Q2445.6,1714.5 2445.6,1730 L2445.6,1834.7" stroke-width="2.2"/>
<rect x="2375" y="1725" width="64" height="33.4"/>
<rect x="2375" y="1745" width="64" height="4" fill="#000"/>
<rect x="2380" y="1749" width="10" height="9.4"/>
<rect x="2425" y="1749" width="9" height="9.4"/>
<rect x="2389" y="1751" width="36" height="5"/>
<rect x="2395" y="1758" width="5" height="4" fill="#000"/>
<rect x="2413" y="1758" width="12" height="6" fill="#000"/>
<rect x="2449.5" y="1759" width="8.5" height="12" stroke-width="2.5" rx="2"/>
<rect x="2447.5" y="1771" width="12.5" height="19" stroke-width="2.5"/>
<rect x="2450" y="1774" width="7" height="13" stroke="none" fill="#000"/>
<polyline points="2460,1773 2470,1773 2470,1777 2465,1777 2465,1783 2470,1783 2470,1787 2460,1787" stroke-width="2.4"/>
<rect x="2450" y="1790" width="7" height="6" stroke="none" fill="#000"/>
<circle cx="2207.5" cy="1709.3" r="39" stroke-width="2.6"/>
<circle cx="2207.5" cy="1709.3" r="10.5" stroke-width="2.6"/>
<circle cx="2207.5" cy="1709.3" r="7"/>
<circle cx="2207.5" cy="1709.3" r="3.5" stroke-width="2.5"/>
<path d="M2205,1691 L2215,1696 M2210,1693 Q2200,1698 2205,1703" stroke-width="2.6"/>
<path d="M2248,1708 L2262,1689 M2252,1711 L2268,1698" stroke-width="2.2"/>
<circle cx="2266.2" cy="1693.5" r="5.7" stroke-width="2.6"/>
<circle cx="2266.2" cy="1693.5" r="2.5"/>
<circle cx="2225" cy="1796.6" r="20" stroke-width="2.6"/>
<circle cx="2225" cy="1796.6" r="6" stroke-width="3"/>
<line x1="2225" y1="1793" x2="2225" y2="1800" stroke-width="2"/>
<rect x="2167" y="1800.5" width="36" height="36"/>
<circle cx="2184.6" cy="1821.4" r="21" stroke-width="2.6"/>
<circle cx="2184.6" cy="1821.4" r="17" stroke-width="1.8"/>
<circle cx="2184.6" cy="1821.4" r="12" stroke-width="2.6"/>
<circle cx="2184.6" cy="1816" r="1.3" fill="#000"/>
<circle cx="2184.6" cy="1824" r="1.3" fill="#000"/>
<path d="M2219,1775 L2222,1742 L2236,1735 L2258,1737 L2276,1742 L2300,1750 L2310,1745" stroke-width="2.2"/>
<rect x="2248" y="1722.5" width="75" height="4.5"/>
<rect x="2247" y="1727" width="5" height="5" fill="#000"/>
<line x1="2285" y1="1712" x2="2285" y2="1740" stroke-width="2.5"/>
<rect x="2281" y="1699" width="10" height="13"/>
<rect x="2275" y="1707" width="24" height="5" fill="#000"/>
<line x1="2308" y1="1731" x2="2308" y2="1790" stroke-width="2.5"/>
<line x1="2312" y1="1731" x2="2312" y2="1790" stroke-width="2.5"/>
<rect x="2240" y="1750" width="22" height="26" stroke-width="0.5" fill="#000"/>
<circle cx="2251" cy="1762" r="8" stroke-width="2.5" fill="#fff"/>
<rect x="2250" y="1758" width="6" height="8" stroke="none" fill="#000"/>
<circle cx="2242" cy="1737" r="4" stroke-width="2.5" fill="#fff"/>
<circle cx="2232" cy="1749" r="2" fill="#000"/>
<circle cx="2232" cy="1754" r="2" fill="#000"/>
<circle cx="2232" cy="1764" r="2" fill="#000"/>
<circle cx="2236" cy="1766" r="3.5" fill="#000"/>
<rect x="2228" y="1739" width="18" height="7" stroke-width="0.5" fill="#000"/>
<circle cx="2288" cy="1762.2" r="14.3" stroke-width="3"/>
<circle cx="2288" cy="1762.2" r="9"/>
<circle cx="2288" cy="1762.2" r="4.5" stroke-width="2.5"/>
<path d="M2300,1744 A22,22 0 0 1 2305,1780" stroke-width="3"/>
<circle cx="2278" cy="1749" r="3.5" stroke-width="2.5"/>
<path d="M2296,1745 L2320,1757 L2307,1784 M2313,1752 L2313,1782" stroke-width="2.2"/>
<rect x="2303" y="1743" width="24" height="38" stroke-width="2.2"/>
<rect x="2298" y="1780" width="14" height="10" fill="#000"/>
<rect x="2303" y="1790" width="20" height="3.5"/>
<path d="M2252,1803 L2270,1783 L2284,1805 L2264,1814 Z" stroke-width="2.5"/>
<path d="M2262,1800 L2272,1790 L2272,1807 Z" stroke-width="1.8"/>
<circle cx="2303" cy="1806" r="5" stroke-width="3.5"/>
<path d="M2306,1802 L2320,1798 L2322,1810 L2313,1817" stroke-width="2.2"/>
<path d="M2309,1810 L2342,1845 M2302,1815 L2338,1850" stroke-width="2.2"/>
<path d="M2298,1810 L2267,1814 L2233,1810" stroke-width="2"/>
<line x1="2270" y1="1815" x2="2312" y2="1820"/>
<rect x="2339" y="1777" width="33" height="57.7" stroke-width="2.5"/>
<circle cx="2355" cy="1775" r="11" stroke-width="3.5" fill="#000"/>
<circle cx="2355" cy="1775" r="5" stroke-width="1" fill="#fff"/>
<rect x="2345" y="1790" width="21" height="22" stroke-width="2.5"/>
<rect x="2344" y="1815" width="24" height="5"/>
<rect x="2349" y="1825" width="13" height="9" fill="#000"/>
<rect x="2336" y="1823" width="4" height="11"/>
<rect x="2372" y="1823" width="4" height="11"/>
<rect x="2338.7" y="1869" width="33.4" height="66"/>
<line x1="2345" y1="1869" x2="2345" y2="1935"/>
<line x1="2350" y1="1869" x2="2350" y2="1935"/>
<line x1="2356" y1="1869" x2="2356" y2="1900"/>
<line x1="2360" y1="1869" x2="2360" y2="1900"/>
<line x1="2366" y1="1869" x2="2366" y2="1935"/>
<rect x="2335" y="1889" width="41" height="15" stroke-width="2.2"/>
<circle cx="2355" cy="1897.8" r="9.5" stroke-width="3"/>
<circle cx="2355" cy="1897.8" r="5.5"/>
<rect x="2331" y="1893" width="6" height="9" fill="#000"/>
<rect x="2338" y="1866" width="34" height="4" fill="#000"/>
<line x1="2351" y1="1847" x2="2351" y2="1862" stroke-width="3"/>
<line x1="2360" y1="1847" x2="2360" y2="1862" stroke-width="3"/>
<line x1="2302" y1="1845" x2="2302" y2="1861"/>
<line x1="2338" y1="1845" x2="2338" y2="1861"/>
<line x1="2342" y1="1845" x2="2342" y2="1861"/>
<rect x="2166.5" y="1844" width="5.5" height="15.5" stroke-width="2"/>
<rect x="2175.4" y="1844" width="6.6" height="15.5" stroke-width="2"/>
<line x1="2230.8" y1="1841" x2="2230.8" y2="1862"/>
<rect x="2255" y="1844" width="13.5" height="15.5" stroke-width="2.2" rx="5"/>
<line x1="2318.4" y1="1841" x2="2318.4" y2="1862"/>
<line x1="2326.2" y1="1841" x2="2326.2" y2="1862"/>
<polyline points="2350.6,1864 2352,1851 2356,1851 2357.2,1864" stroke-width="2.2"/>
<polyline points="2366,1864 2367.5,1851 2371.3,1851 2372.7,1864" stroke-width="2.2"/>
<rect x="2415" y="1844" width="11" height="15.5" stroke-width="2.2" rx="5"/>
<line x1="2429.3" y1="1841" x2="2429.3" y2="1862"/>
<line x1="2432.6" y1="1841" x2="2432.6" y2="1862" stroke-width="1.8"/>
<line x1="2444.8" y1="1841" x2="2444.8" y2="1862"/>
<line x1="2393" y1="1834.5" x2="2562" y2="1834.5" stroke-width="1.8"/>
<line x1="2330" y1="1868.5" x2="2393" y2="1868.5" stroke-width="1.8"/>
</g>
</svg>
</body></html>
